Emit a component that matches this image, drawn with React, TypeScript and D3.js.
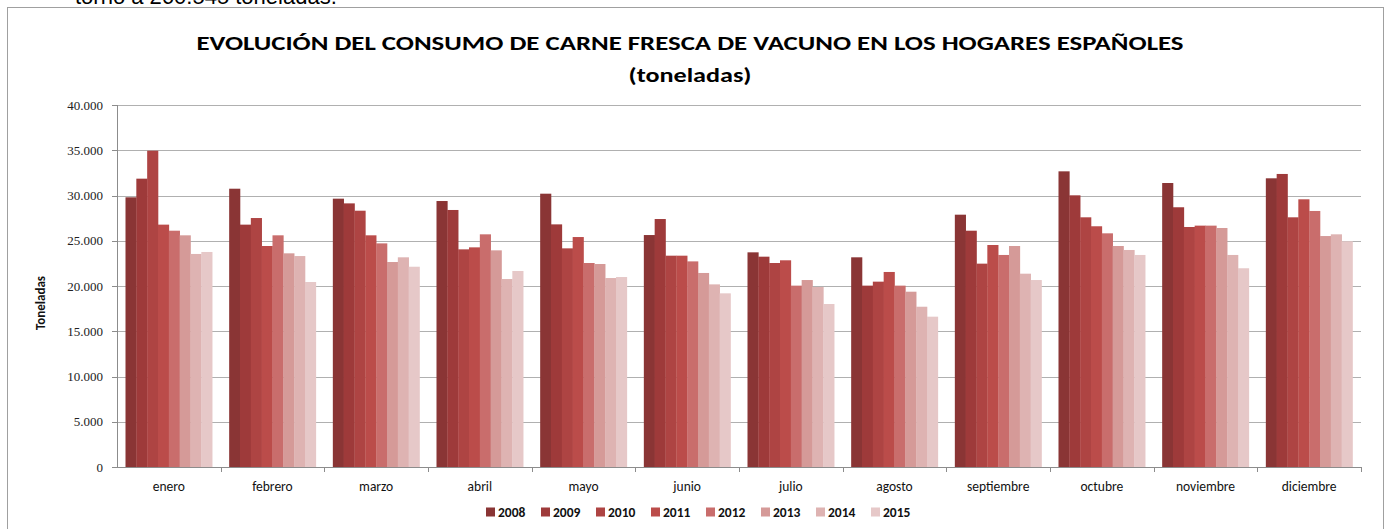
import React from 'react';
import { scaleBand, scaleLinear } from 'd3';

const months = ['enero', 'febrero', 'marzo', 'abril', 'mayo', 'junio', 'julio', 'agosto', 'septiembre', 'octubre', 'noviembre', 'diciembre'];
const years = ['2008', '2009', '2010', '2011', '2012', '2013', '2014', '2015'];

// toneladas por mes, una lista por año
const v2008 = [29800, 30750, 29650, 29390, 30200, 25630, 23720, 23170, 27880, 32670, 31380, 31900];
const v2009 = [31860, 26780, 29130, 28400, 26810, 27400, 23240, 20040, 26110, 30020, 28700, 32380];
const v2010 = [34950, 27510, 28320, 24050, 24160, 23350, 22540, 20480, 22470, 27590, 26520, 27590];
const v2011 = [26780, 24420, 25600, 24270, 25410, 23350, 22840, 21550, 24530, 26600, 26670, 29580];
const v2012 = [26110, 25600, 24710, 25710, 22540, 22720, 20040, 20040, 23430, 25820, 26670, 28290];
const v2013 = [25600, 23610, 22650, 23940, 22430, 21440, 20660, 19370, 24420, 24420, 26410, 25520];
const v2014 = [23540, 23310, 23170, 20770, 20880, 20180, 19890, 17710, 21360, 23980, 23430, 25710];
const v2015 = [23760, 20440, 22130, 21660, 20990, 19190, 18010, 16610, 20660, 23430, 21960, 24940];
const series = [v2008, v2009, v2010, v2011, v2012, v2013, v2014, v2015];

const colors = ['#8a3535', '#9e3a3a', '#ae4443', '#bb4c4a', '#c96d6c', '#d59a98', '#deb3b2', '#e6c8c8'];
const yTicks = [0, 5000, 10000, 15000, 20000, 25000, 30000, 35000, 40000];

const fmt = (v: number) => (v === 0 ? '0' : `${Math.floor(v / 1000)}.${String(v % 1000).padStart(3, '0')}`);

const App = () => {
  const width = 1394;
  const height = 529;
  const left = 117, right = 1361, top = 105, bottom = 467;

  const xScale = scaleBand<string>()
    .domain(months)
    .range([left, right])
    .paddingInner(0.164)
    .paddingOuter(0.082);

  const inner = scaleBand<string>()
    .domain(years)
    .range([0, xScale.bandwidth()]);

  const yScale = scaleLinear().domain([0, 40000]).range([bottom, top]);

  const step = xScale.step();
  const sans = 'Carlito, "Open Sans", "Noto Sans", sans-serif';

  return (
    <svg width={width} height={height} style={{ position: 'absolute', left: 0, top: 0, background: '#fff' }}>
      <text x={75} y={4} fontFamily='"Liberation Sans", Arial, sans-serif' fontSize={22} fill="#000">torno a 260.545 toneladas.</text>
      <rect x={7.5} y={7.5} width={1376} height={540} fill="#fff" stroke="#a0a0a0" />

      <text x={690} y={50} textAnchor="middle" fontFamily={sans} fontWeight="bold" fontSize={20}
        textLength={987} lengthAdjust="spacingAndGlyphs">EVOLUCIÓN DEL CONSUMO DE CARNE FRESCA DE VACUNO EN LOS HOGARES ESPAÑOLES</text>
      <text x={690} y={82} textAnchor="middle" fontFamily={sans} fontWeight="bold" fontSize={20}
        textLength={123} lengthAdjust="spacingAndGlyphs">(toneladas)</text>

      {yTicks.map(t => (
        <g key={t}>
          <line x1={left} x2={right} y1={Math.round(yScale(t)) + 0.5} y2={Math.round(yScale(t)) + 0.5}
            stroke={t === 0 ? '#8c8c8c' : '#b0b0b0'} />
          <line x1={left - 5} x2={left} y1={Math.round(yScale(t)) + 0.5} y2={Math.round(yScale(t)) + 0.5} stroke="#8c8c8c" />
          <text x={103} y={yScale(t)} dy="0.35em" textAnchor="end" fontFamily='"Liberation Serif", serif' fontSize={13} fill="#222">{fmt(t)}</text>
        </g>
      ))}
      <line x1={left + 0.5} x2={left + 0.5} y1={top} y2={bottom} stroke="#8c8c8c" />

      {months.map((m, i) => (
        <line key={m} x1={Math.round(left + step * (i + 1)) + 0.5} x2={Math.round(left + step * (i + 1)) + 0.5}
          y1={bottom} y2={bottom + 5} stroke="#8c8c8c" />
      ))}

      <text transform={`translate(45, 303) rotate(-90)`} textAnchor="middle" fontFamily={sans} fontWeight="bold" fontSize={13} fill="#111">Toneladas</text>

      {series.map((vals, si) => (
        <g key={years[si]} fill={colors[si]}>
          {months.map((m, mi) => (
            <rect key={m} x={(xScale(m) as number) + (inner(years[si]) as number)} y={yScale(vals[mi])}
              width={inner.bandwidth() + 0.3} height={bottom - yScale(vals[mi])} />
          ))}
        </g>
      ))}

      {months.map(m => (
        <text key={m} x={(xScale(m) as number) + xScale.bandwidth() / 2} y={491} textAnchor="middle"
          fontFamily={sans} fontSize={13.5} fill="#111">{m}</text>
      ))}

      {years.map((yr, i) => (
        <g key={yr} transform={`translate(${486 + i * 55}, 512)`}>
          <rect x={0} y={-4.5} width={9} height={9} fill={colors[i]} />
          <text x={12} y={0} dy="0.35em" fontFamily={sans} fontWeight="bold" fontSize={13.5} fill="#111">{yr}</text>
        </g>
      ))}
    </svg>
  );
};

export default App;
